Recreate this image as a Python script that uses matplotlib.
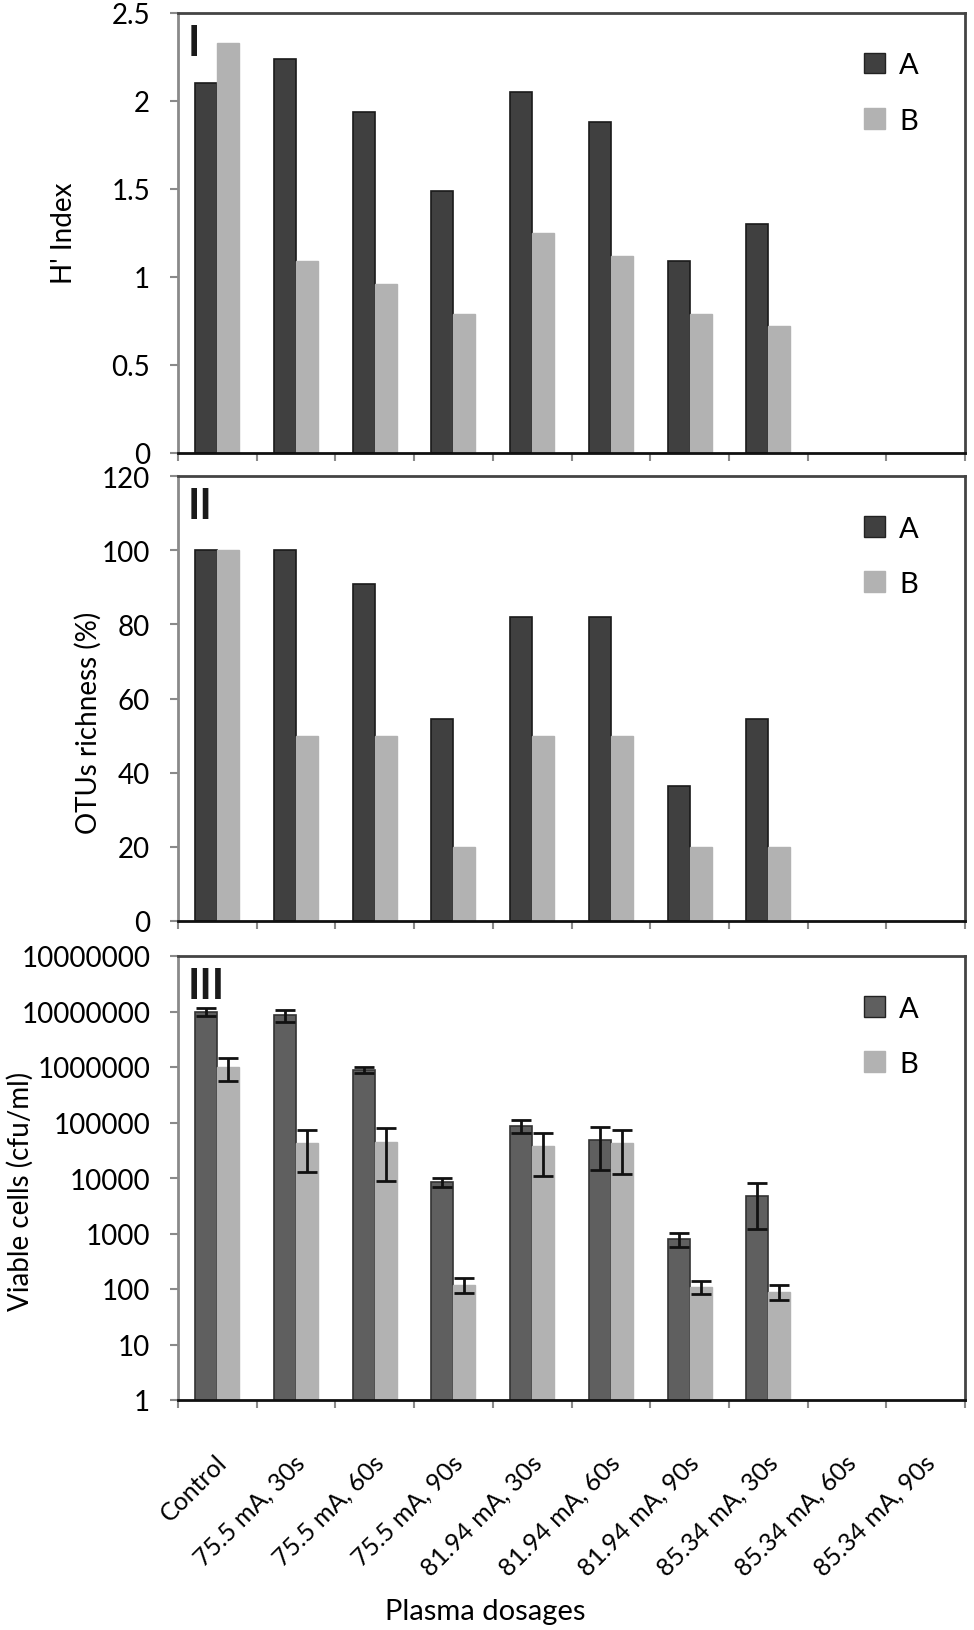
import numpy as np
import matplotlib
matplotlib.use("Agg")
import matplotlib.pyplot as plt
from matplotlib.patches import Patch

plt.rcParams['font.family'] = ['Lato', 'DejaVu Sans']

dosages = ["Control", "75.5 mA, 30s", "75.5 mA, 60s", "75.5 mA, 90s",
           "81.94 mA, 30s", "81.94 mA, 60s", "81.94 mA, 90s",
           "85.34 mA, 30s", "85.34 mA, 60s", "85.34 mA, 90s"]

# panel I: H' index
h_a = [2.10, 2.24, 1.94, 1.49, 2.05, 1.88, 1.09, 1.30, np.nan, np.nan]
h_b = [2.33, 1.09, 0.96, 0.79, 1.25, 1.12, 0.79, 0.72, np.nan, np.nan]

# panel II: OTUs richness (%)
otu_a = [100, 100, 91, 54.5, 82, 82, 36.5, 54.5, np.nan, np.nan]
otu_b = [100, 50, 50, 20, 50, 50, 20, 20, np.nan, np.nan]

# panel III: viable cells (cfu/ml) with error bars
cfu_a = [1.0e7, 8.6e6, 8.8e5, 8.5e3, 8.8e4, 4.8e4, 8.0e2, 4.7e3, np.nan, np.nan]
cfu_a_err = [1.8e6, 2.0e6, 1.0e5, 1.6e3, 2.2e4, 3.4e4, 2.2e2, 3.5e3, np.nan, np.nan]
cfu_b = [1.0e6, 4.3e4, 4.5e4, 1.2e2, 3.8e4, 4.3e4, 1.1e2, 9.0e1, np.nan, np.nan]
cfu_b_err = [4.5e5, 3.0e4, 3.6e4, 3.5e1, 2.7e4, 3.1e4, 3.0e1, 2.7e1, np.nan, np.nan]

log_ticks = [1, 10, 100, 1000, 10000, 100000, 1000000, 10000000, 100000000]
log_labels = ["1", "10", "100", "1000", "10000", "100000", "1000000",
              "10000000", "10000000"]

W, H = 974, 1631
fig = plt.figure(figsize=(W / 100, H / 100), dpi=100)

left = 178 / W
width = (965 - 178) / W
fs = 20


def make_axes(top_px, bottom_px):
    return fig.add_axes([left, 1 - bottom_px / H, width, (bottom_px - top_px) / H])


def style_axes(ax):
    ax.set_xlim(0, 10)
    ax.set_xticks(np.arange(0, 11))
    ax.set_xticklabels([])
    ax.spines['left'].set_color('#8a8a8a')
    ax.spines['left'].set_linewidth(2)
    ax.spines['bottom'].set_color('#111111')
    ax.spines['bottom'].set_linewidth(2)
    for s in ['top', 'right']:
        ax.spines[s].set_color('#444444')
        ax.spines[s].set_linewidth(2)
    ax.tick_params(axis='both', direction='out', color='#8a8a8a', length=6,
                   width=1.5, labelsize=fs)
    ax.tick_params(axis='y', pad=14)
    ax.tick_params(axis='y', which='minor', left=False)


x = np.arange(len(dosages)) + 0.5
bw = 0.28

dark1 = '#404040'
dark3 = '#5f5f5f'
light = '#b2b2b2'


def add_legend(ax, col_a):
    handles = [Patch(facecolor=col_a, edgecolor='#222222', label='A'),
               Patch(facecolor=light, edgecolor=light, label='B')]
    ax.legend(handles=handles, loc='upper right', bbox_to_anchor=(0.975, 0.97),
              frameon=False, fontsize=21, handlelength=0.7, handleheight=0.7,
              handletextpad=0.5, labelspacing=1.0)


def panel_tag(ax, tag):
    ax.text(0.012, 0.975, tag, transform=ax.transAxes, fontsize=30,
            fontweight='bold', va='top', ha='left', color='#1a1a1a')


# panel I
ax1 = make_axes(14, 454)
ax1.bar(x - bw / 2, h_a, bw, color=dark1, edgecolor='#1a1a1a', linewidth=1.2)
ax1.bar(x + bw / 2, h_b, bw, color=light, edgecolor=light, linewidth=1.0)
ax1.set_ylim(0, 2.5)
ax1.set_yticks([0, 0.5, 1, 1.5, 2, 2.5])
ax1.set_yticklabels(["0", "0.5", "1", "1.5", "2", "2.5"])
style_axes(ax1)
add_legend(ax1, dark1)
panel_tag(ax1, "I")
fig.text(64 / W, 1 - 233 / H, "H' Index", rotation=90, fontsize=fs,
         ha='center', va='center')

# panel II
ax2 = make_axes(477, 922)
ax2.bar(x - bw / 2, otu_a, bw, color=dark1, edgecolor='#1a1a1a', linewidth=1.2)
ax2.bar(x + bw / 2, otu_b, bw, color=light, edgecolor=light, linewidth=1.0)
ax2.set_ylim(0, 120)
ax2.set_yticks([0, 20, 40, 60, 80, 100, 120])
style_axes(ax2)
add_legend(ax2, dark1)
panel_tag(ax2, "II")
fig.text(88 / W, 1 - 723 / H, "OTUs richness (%)", rotation=90, fontsize=fs,
         ha='center', va='center')

# panel III
ax3 = make_axes(957, 1401)
ax3.set_yscale('log')
ax3.bar(x - bw / 2, cfu_a, bw, color=dark3, edgecolor='#333333', linewidth=1.2,
        yerr=cfu_a_err, error_kw=dict(ecolor='#111111', elinewidth=2,
                                      capsize=7, capthick=2))
ax3.bar(x + bw / 2, cfu_b, bw, color=light, edgecolor=light, linewidth=1.0,
        yerr=cfu_b_err, error_kw=dict(ecolor='#111111', elinewidth=2,
                                      capsize=7, capthick=2))
ax3.set_ylim(1, 1e8)
ax3.set_yticks(log_ticks)
ax3.set_yticklabels(log_labels)
style_axes(ax3)
ax3.set_xticks(x + 0.07, minor=True)
ax3.set_xticklabels(dosages, minor=True, rotation=45, ha='right', va='center',
                    rotation_mode='anchor', fontsize=18)
ax3.tick_params(axis='x', which='minor', length=0, pad=42)
add_legend(ax3, dark3)
panel_tag(ax3, "III")
fig.text(20 / W, 1 - 1191 / H, "Viable cells (cfu/ml)", rotation=90,
         fontsize=fs, ha='center', va='center')
fig.text(485 / W, 1 - 1612 / H, "Plasma dosages", fontsize=21,
         ha='center', va='center')

fig.savefig("out.png", dpi=100)
